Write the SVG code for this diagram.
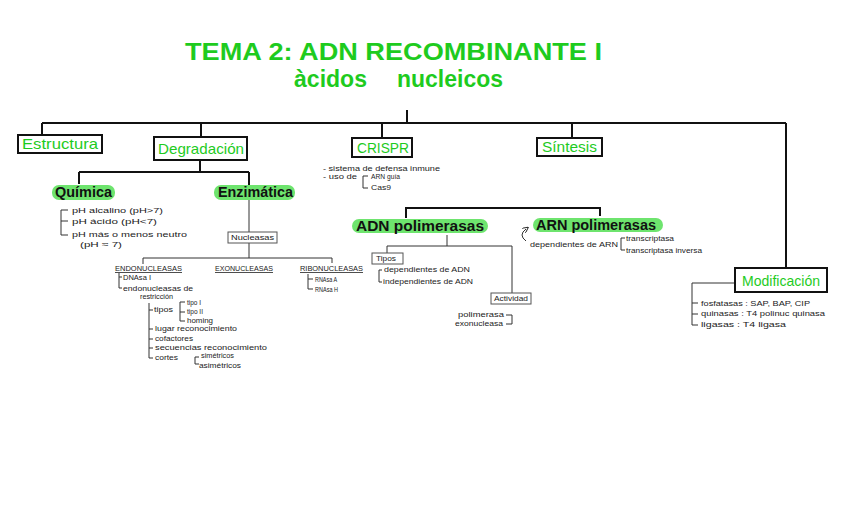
<svg xmlns="http://www.w3.org/2000/svg" width="848" height="530" viewBox="0 0 848 530">
<style>
text{font-family:"Liberation Sans",Arial,sans-serif}
.title{fill:#1ecb1e;font-size:24px;font-weight:bold}
.box{fill:#fff;stroke:#111;stroke-width:2}
.sbox{fill:#fff;stroke:#555;stroke-width:1}
.lbl{fill:#1ecb1e;font-size:15px}
.hl{fill:#6ee46e}
.hlt{fill:#111;font-size:14px;font-weight:bold}
.sm{fill:#222;font-size:8px}
.ln{stroke:#111;stroke-width:2;fill:none}
.tl{stroke:#333;stroke-width:1;fill:none}
</style>
<defs>
<marker id="ah" markerWidth="6" markerHeight="6" refX="3" refY="3" orient="auto" markerUnits="userSpaceOnUse"><path d="M0,0 L6,3 L0,6" fill="none" stroke="#333" stroke-width="1"/></marker>
</defs>
<rect width="848" height="530" fill="#fff"/>

<g id="title">
<text class="title" x="185" y="60" textLength="417" lengthAdjust="spacingAndGlyphs">TEMA 2: ADN RECOMBINANTE I</text>
<text class="title" x="294" y="87" textLength="73" lengthAdjust="spacingAndGlyphs" font-weight="normal">àcidos</text>
<text class="title" x="397" y="87" textLength="106" lengthAdjust="spacingAndGlyphs" font-weight="normal">nucleicos</text>
</g>

<g id="connectors">
<path class="ln" d="M407 110 V123 M42 123 H786 M42 123 V135 M201 123 V137 M382 123 V138 M572 123 V138 M786 123 V268"/>
<path class="ln" d="M200 160 V172 M79 172 H249 M79 172 V184 M249 172 V185"/>
<path class="tl" d="M249 200 V258 M143 258 H332 M143 258 V264 M332 258 V263"/>
<path class="ln" d="M406 218 V208 H600 V216"/>
<path class="tl" d="M447 235 V246 M387 246 H512 M387 246 V253 M512 246 V293"/>
<path class="tl" d="M735 283 H692 V325 M692 303 H698 M692 314 H698 M692 325 H698"/>
<path class="tl" d="M68 210 H61 V235 H68 M61 221 H68"/>
<path class="tl" d="M119 273 V288 H122 M119 277 H122"/>
<path class="tl" d="M149 303 V358 H153 M149 310 H153 M149 329 H153 M149 339 H153 M149 348 H153"/>
<path class="tl" d="M185 302 H180 V321 H185 M180 312 H185"/>
<path class="tl" d="M199 357 H195 V364 H199"/>
<path class="tl" d="M308 274 V289 H313 M308 279 H313"/>
<path class="tl" d="M368 176 H363 V188 H368"/>
<path class="tl" d="M382 270 H379 V282 H382"/>
<path class="tl" d="M506 315 H512 V324 H506"/>
<path class="tl" d="M625 238 H621 V250 H625"/>
<path class="tl" d="M526 241 Q518 235 526 229" marker-end="url(#ah)"/>
</g>

<g id="estructura">
<rect class="box" x="18" y="135" width="84" height="18"/>
<text class="lbl" x="22" y="149" textLength="76" lengthAdjust="spacingAndGlyphs">Estructura</text>
</g>
<g id="degradacion">
<rect class="box" x="154" y="137" width="93" height="23"/>
<text class="lbl" x="158" y="154" textLength="86" lengthAdjust="spacingAndGlyphs">Degradación</text>
</g>
<g id="crispr">
<rect class="box" x="352" y="138" width="60" height="19"/>
<text class="lbl" x="357" y="153" textLength="52" lengthAdjust="spacingAndGlyphs">CRISPR</text>
<text class="sm" x="323" y="171" textLength="117" lengthAdjust="spacingAndGlyphs">- sistema de defensa inmune</text>
<text class="sm" x="323" y="179" textLength="34" lengthAdjust="spacingAndGlyphs">- uso de</text>
<text class="sm" x="371" y="179" textLength="29" lengthAdjust="spacingAndGlyphs">ARN guía</text>
<text class="sm" x="371" y="190" textLength="20" lengthAdjust="spacingAndGlyphs">Cas9</text>
</g>
<g id="sintesis">
<rect class="box" x="537" y="138" width="65" height="18"/>
<text class="lbl" x="542" y="152" textLength="55" lengthAdjust="spacingAndGlyphs">Síntesis</text>
</g>
<g id="modificacion">
<rect class="box" x="735" y="268" width="92" height="24"/>
<text class="lbl" x="742" y="286" textLength="78" lengthAdjust="spacingAndGlyphs">Modificación</text>
<text class="sm" x="701" y="306" textLength="109" lengthAdjust="spacingAndGlyphs">fosfatasas : SAP, BAP, CIP</text>
<text class="sm" x="701" y="316" textLength="124" lengthAdjust="spacingAndGlyphs">quinasas : T4 polinuc quinasa</text>
<text class="sm" x="701" y="327" textLength="85" lengthAdjust="spacingAndGlyphs">ligasas : T4 ligasa</text>
</g>

<g id="quimica">
<rect class="hl" x="52" y="185" width="63" height="15" rx="7"/>
<text class="hlt" x="55" y="197" textLength="57" lengthAdjust="spacingAndGlyphs">Química</text>
<text class="sm" x="72" y="213" textLength="91" lengthAdjust="spacingAndGlyphs">pH alcalino (pH&gt;7)</text>
<text class="sm" x="72" y="224" textLength="85" lengthAdjust="spacingAndGlyphs">pH ácido (pH&lt;7)</text>
<text class="sm" x="72" y="237" textLength="115" lengthAdjust="spacingAndGlyphs">pH más o menos neutro</text>
<text class="sm" x="80" y="247" textLength="42" lengthAdjust="spacingAndGlyphs">(pH ≈ 7)</text>
</g>
<g id="enzimatica">
<rect class="hl" x="214" y="185" width="81" height="15" rx="7"/>
<text class="hlt" x="218" y="197" textLength="75" lengthAdjust="spacingAndGlyphs">Enzimática</text>
</g>
<g id="nucleasas">
<rect class="sbox" x="228" y="232" width="49" height="11"/>
<text class="sm" x="231" y="240" textLength="43" lengthAdjust="spacingAndGlyphs">Nucleasas</text>
</g>
<g id="endonucleasas">
<text class="sm" x="115" y="271" textLength="67" lengthAdjust="spacingAndGlyphs" text-decoration="underline">ENDONUCLEASAS</text>
<text class="sm" x="123" y="280" textLength="28" lengthAdjust="spacingAndGlyphs">DNAsa I</text>
<text class="sm" x="123" y="291" textLength="70" lengthAdjust="spacingAndGlyphs">endonucleasas de</text>
<text class="sm" x="140" y="299" textLength="33" lengthAdjust="spacingAndGlyphs">restricción</text>
<text class="sm" x="154" y="312" textLength="19" lengthAdjust="spacingAndGlyphs">tipos</text>
<text class="sm" x="187" y="305" textLength="14" lengthAdjust="spacingAndGlyphs">tipo I</text>
<text class="sm" x="187" y="314" textLength="16" lengthAdjust="spacingAndGlyphs">tipo II</text>
<text class="sm" x="187" y="323" textLength="26" lengthAdjust="spacingAndGlyphs">homing</text>
<text class="sm" x="155" y="331" textLength="82" lengthAdjust="spacingAndGlyphs">lugar reconocimiento</text>
<text class="sm" x="155" y="341" textLength="38" lengthAdjust="spacingAndGlyphs">cofactores</text>
<text class="sm" x="155" y="350" textLength="112" lengthAdjust="spacingAndGlyphs">secuencias reconocimiento</text>
<text class="sm" x="155" y="360" textLength="23" lengthAdjust="spacingAndGlyphs">cortes</text>
<text class="sm" x="201" y="358" textLength="33" lengthAdjust="spacingAndGlyphs">simétricos</text>
<text class="sm" x="199" y="368" textLength="42" lengthAdjust="spacingAndGlyphs">asimétricos</text>
</g>
<g id="exonucleasas">
<text class="sm" x="215" y="271" textLength="58" lengthAdjust="spacingAndGlyphs" text-decoration="underline">EXONUCLEASAS</text>
</g>
<g id="ribonucleasas">
<text class="sm" x="300" y="271" textLength="63" lengthAdjust="spacingAndGlyphs" text-decoration="underline">RIBONUCLEASAS</text>
<text class="sm" x="315" y="282" textLength="22" lengthAdjust="spacingAndGlyphs">RNAsa A</text>
<text class="sm" x="315" y="292" textLength="23" lengthAdjust="spacingAndGlyphs">RNAsa H</text>
</g>

<g id="adn-polimerasas">
<rect class="hl" x="352" y="219" width="136" height="14" rx="7"/>
<text class="hlt" x="356" y="231" textLength="128" lengthAdjust="spacingAndGlyphs">ADN polimerasas</text>
</g>
<g id="tipos">
<rect class="sbox" x="372" y="253" width="31" height="11"/>
<text class="sm" x="376" y="261" textLength="20" lengthAdjust="spacingAndGlyphs">Tipos</text>
<text class="sm" x="384" y="272" textLength="86" lengthAdjust="spacingAndGlyphs">dependientes de ADN</text>
<text class="sm" x="383" y="284" textLength="90" lengthAdjust="spacingAndGlyphs">independientes de ADN</text>
</g>
<g id="actividad">
<rect class="sbox" x="491" y="293" width="40" height="11"/>
<text class="sm" x="494" y="301" textLength="34" lengthAdjust="spacingAndGlyphs">Actividad</text>
<text class="sm" x="458" y="317" textLength="46" lengthAdjust="spacingAndGlyphs">polimerasa</text>
<text class="sm" x="455" y="326" textLength="48" lengthAdjust="spacingAndGlyphs">exonucleasa</text>
</g>
<g id="arn-polimerasas">
<rect class="hl" x="533" y="218" width="130" height="14" rx="7"/>
<text class="hlt" x="536" y="230" textLength="120" lengthAdjust="spacingAndGlyphs">ARN polimerasas</text>
<text class="sm" x="530" y="247" textLength="88" lengthAdjust="spacingAndGlyphs">dependientes de ARN</text>
<text class="sm" x="626" y="241" textLength="48" lengthAdjust="spacingAndGlyphs">transcriptasa</text>
<text class="sm" x="626" y="253" textLength="76" lengthAdjust="spacingAndGlyphs">transcriptasa inversa</text>
</g>
</svg>
